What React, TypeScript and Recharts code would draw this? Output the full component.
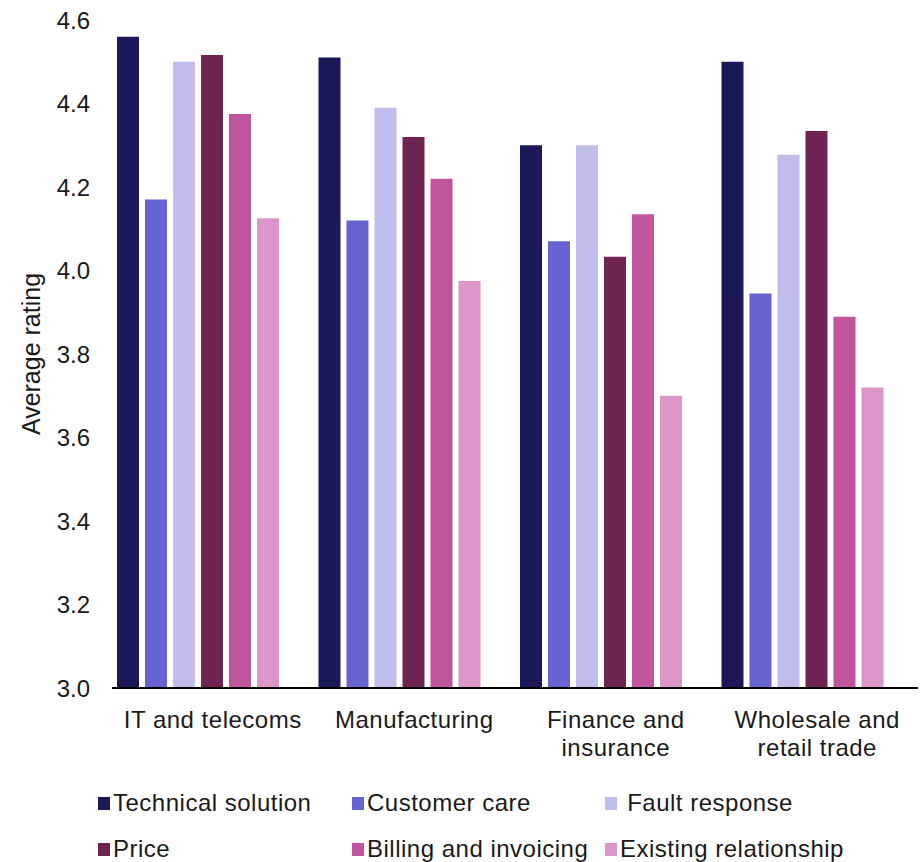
import { BarChart, Bar, XAxis, YAxis, Legend, Label } from "recharts";

const categories = [
  "IT and telecoms",
  "Manufacturing",
  "Finance and insurance",
  "Wholesale and retail trade",
];

// how each category label is broken over lines under the axis
const categoryLines = [
  ["IT and telecoms"],
  ["Manufacturing"],
  ["Finance and", "insurance"],
  ["Wholesale and", "retail trade"],
];

const technicalSolution = [4.56, 4.51, 4.3, 4.5];
const customerCare = [4.17, 4.12, 4.07, 3.945];
const faultResponse = [4.5, 4.39, 4.3, 4.277];
const price = [4.516, 4.32, 4.033, 4.334];
const billingInvoicing = [4.375, 4.22, 4.135, 3.889];
const existingRelationship = [4.125, 3.975, 3.7, 3.72];

const yTicks = [3.0, 3.2, 3.4, 3.6, 3.8, 4.0, 4.2, 4.4, 4.6];

const series = [
  { key: "technical", name: "Technical solution", color: "#1b1857", values: technicalSolution },
  { key: "customer", name: "Customer care", color: "#6763d2", values: customerCare },
  { key: "fault", name: " Fault response", color: "#bfbdec", values: faultResponse },
  { key: "price", name: "Price", color: "#6e2350", values: price },
  { key: "billing", name: "Billing and invoicing", color: "#c0559e", values: billingInvoicing },
  { key: "existing", name: "Existing relationship", color: "#dc96c8", values: existingRelationship },
];

const data = categories.map((name, i) => {
  const row: Record<string, string | number> = { name };
  series.forEach((s) => {
    row[s.key] = s.values[i];
  });
  return row;
});

const textColor = "#1a1a1a";

function CategoryTick(props: any) {
  const { x, y, payload } = props;
  const idx = categories.indexOf(payload.value);
  const lines = idx >= 0 ? categoryLines[idx] : [payload.value];
  return (
    <text
      x={x}
      y={y}
      textAnchor="middle"
      fontSize={24}
      fill={textColor}
      style={{ letterSpacing: 0.5 }}
    >
      {lines.map((line: string, i: number) => (
        <tspan key={i} x={x} dy={i === 0 ? 18 : 28}>
          {line}
        </tspan>
      ))}
    </text>
  );
}

function LegendGrid() {
  return (
    <div
      style={{
        height: 144,
        boxSizing: "border-box",
        paddingTop: 73,
        paddingLeft: 98,
        display: "grid",
        gridTemplateColumns: "254px 253px 260px",
        gridTemplateRows: "24px 24px",
        rowGap: 22,
        fontSize: 24,
        letterSpacing: 0.5,
        color: textColor,
      }}
    >
      {series.map((s) => (
        <div key={s.key} style={{ display: "flex", alignItems: "center", whiteSpace: "pre" }}>
          <span
            style={{
              display: "inline-block",
              width: 12,
              height: 13,
              background: s.color,
              marginRight: 3,
            }}
          />
          <span style={{ lineHeight: "24px" }}>{s.name}</span>
        </div>
      ))}
    </div>
  );
}

function YLabel(props: any) {
  const { viewBox } = props;
  const cx = viewBox.x + 31;
  const cy = viewBox.y + viewBox.height / 2;
  return (
    <text
      x={cx}
      y={cy}
      transform={`rotate(-90 ${cx} ${cy})`}
      textAnchor="middle"
      dominantBaseline="central"
      fontSize={25}
      fill={textColor}
    >
      Average rating
    </text>
  );
}

export default function App() {
  return (
    <div
      style={{
        position: "absolute",
        left: 0,
        top: 0,
        fontFamily: "'Liberation Sans', Arial, sans-serif",
        background: "#fff",
      }}
    >
      <BarChart
        width={924}
        height={862}
        data={data}
        margin={{ top: 20, right: 6, bottom: 0, left: 0 }}
        barCategoryGap={5}
        barGap={6}
      >
        <XAxis
          dataKey="name"
          height={30}
          axisLine={{ stroke: "#000", strokeWidth: 2 }}
          tickLine={false}
          tickMargin={16}
          tick={<CategoryTick />}
          interval={0}
        />
        <YAxis
          width={112}
          domain={[3, 4.6]}
          ticks={yTicks}
          allowDataOverflow
          axisLine={false}
          tickLine={false}
          tickMargin={16}
          tickFormatter={(v: number) => v.toFixed(1)}
          tick={{ fontSize: 24, fill: textColor }}
        >
          <Label content={<YLabel />} />
        </YAxis>
        <Legend
          verticalAlign="bottom"
          wrapperStyle={{ left: 0, bottom: 0, width: 924 }}
          content={() => <LegendGrid />}
        />
        {series.map((s) => (
          <Bar
            key={s.key}
            dataKey={s.key}
            name={s.name}
            fill={s.color}
            isAnimationActive={false}
          />
        ))}
        <Bar dataKey="blank" legendType="none" fill="none" isAnimationActive={false} />
      </BarChart>
    </div>
  );
}
